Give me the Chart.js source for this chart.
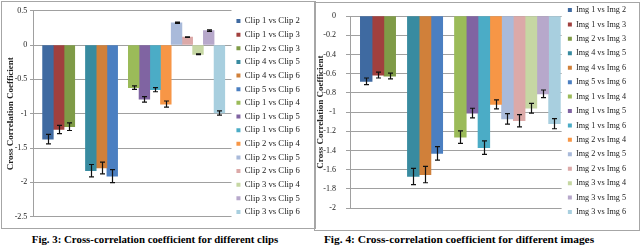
<!DOCTYPE html>
<html><head><meta charset="utf-8">
<script src="https://cdn.jsdelivr.net/npm/chart.js@4/dist/chart.umd.min.js"></script>
<style>
html,body{margin:0;padding:0;background:#fff;width:640px;height:246px;overflow:hidden;position:relative;font-family:'Liberation Serif',serif;}
.frame{position:absolute;border:1px solid #a6a6a6;box-sizing:border-box;}
canvas{position:absolute;}
.cap{position:absolute;font-weight:bold;line-height:12px;text-align:center;color:#000;white-space:nowrap;}
</style></head><body>
<div class="frame" style="left:1px;top:1px;width:315px;height:228px"></div>
<div class="frame" style="left:314px;top:2px;width:326px;height:229px"></div>
<canvas id="c1" width="306" height="229" style="left:2px;top:2px"></canvas>
<canvas id="c2" width="321" height="224" style="left:315px;top:-1px"></canvas>
<div class="cap" style="left:0;width:310px;top:233px;font-size:10.85px">Fig. 3: Cross-correlation coefficient for different clips</div>
<div class="cap" style="left:320px;width:278px;top:233px;font-size:11.4px">Fig. 4: Cross-correlation coefficient for different images</div>
<script>
const FONT = 'Liberation Serif';

// ---- Fig. 3 data (clips) ----
const clipLabels = ['Clip 1 vs Clip 2','Clip 1 vs Clip 3','Clip 2 vs Clip 3','Clip 4 vs Clip 5','Clip 4 vs Clip 6','Clip 5 vs Clip 6','Clip 1 vs Clip 4','Clip 1 vs Clip 5','Clip 1 vs Clip 6','Clip 2 vs Clip 4','Clip 2 vs Clip 5','Clip 2 vs Clip 6','Clip 3 vs Clip 4','Clip 3 vs Clip 5','Clip 3 vs Clip 6'];
const clipValues = [-1.37, -1.23, -1.19, -1.83, -1.79, -1.91, -0.62, -0.79, -0.65, -0.86, 0.325, 0.115, -0.135, 0.21, -0.99];
const clipErrors = [0.07, 0.06, 0.055, 0.09, 0.085, 0.095, 0.025, 0.04, 0.03, 0.045, 0.01, 0.005, 0.005, 0.01, 0.03];
const clipTicks = [0.5, 0, -0.5, -1, -1.5, -2, -2.5];

// ---- Fig. 4 data (images) ----
const imgLabels = ['Img 1 vs Img 2','Img 1 vs Img 3','Img 2 vs Img 3','Img 4 vs Img 5','Img 4 vs Img 6','Img 5 vs Img 6','Img 1 vs Img 4','Img 1 vs Img 5','Img 1 vs Img 6','Img 2 vs Img 4','Img 2 vs Img 5','Img 2 vs Img 6','Img 3 vs Img 4','Img 3 vs Img 5','Img 3 vs Img 6'];
const imgValues = [-0.68, -0.615, -0.625, -1.67, -1.65, -1.43, -1.26, -1.01, -1.37, -0.92, -1.07, -1.09, -0.96, -0.81, -1.12];
const imgErrors = [0.035, 0.03, 0.03, 0.085, 0.085, 0.07, 0.065, 0.05, 0.07, 0.047, 0.055, 0.063, 0.05, 0.04, 0.053];
const imgTicks = [0, -0.2, -0.4, -0.6, -0.8, -1, -1.2, -1.4, -1.6, -1.8, -2];

// groups of series (a blank slot separates groups)
const groupSizes = [3, 3, 9];
const seriesColors = ['#3F6AA1','#A1403E','#7F9B47','#388BA0','#D0803A','#4B7FC1','#9BBB59','#8064A2','#4BACC6','#F79646','#A9BADA','#DCA9A8','#C6D7A3','#B7A8CB','#A8CFDF'];

function slotPositions(sizes) {
  const s = []; let pos = 0;
  sizes.forEach(n => { for (let i = 0; i < n; i++) s.push(pos++); pos++; });
  return s;
}

const errorBarPlugin = {
  id: 'errorBars',
  afterDatasetsDraw(chart, args, opts) {
    const ctx = chart.ctx, ys = chart.scales.y;
    ctx.save();
    ctx.strokeStyle = opts.color; ctx.lineWidth = opts.lineWidth;
    chart.data.datasets.forEach((ds, i) => {
      const bar = chart.getDatasetMeta(i).data[0];
      if (!bar) return;
      const v = ds.data[0].y, e = ds.errorValue;
      const x = Math.round(bar.x) + 0.5;
      const y1 = ys.getPixelForValue(v + e), y2 = ys.getPixelForValue(v - e);
      const hw = opts.capHalfWidth;
      ctx.beginPath();
      ctx.moveTo(x, y1); ctx.lineTo(x, y2);
      ctx.moveTo(x - hw, y1); ctx.lineTo(x + hw, y1);
      ctx.moveTo(x - hw, y2); ctx.lineTo(x + hw, y2);
      ctx.stroke();
    });
    ctx.restore();
  }
};

function makeChart(id, labels, values, errors, ticks, cfg) {
  const slots = slotPositions(groupSizes);
  const step = Math.abs(ticks[0] - ticks[1]);
  return new Chart(document.getElementById(id), {
    type: 'bar',
    data: {
      datasets: labels.map((lab, i) => ({
        label: lab,
        data: [{x: slots[i], y: values[i]}],
        errorValue: errors[i],
        backgroundColor: seriesColors[i],
        borderWidth: 0,
        grouped: false,
        categoryPercentage: 1,
        barPercentage: 1
      }))
    },
    options: {
      responsive: false, animation: false, devicePixelRatio: 1,
      layout: {padding: 0},
      plugins: {
        legend: {
          position: 'right', align: 'center',
          labels: {boxWidth: 4, boxHeight: 4, padding: cfg.legendPad, color: '#222',
                   font: {family: FONT, size: cfg.legendFont}}
        },
        tooltip: {enabled: false},
        errorBars: {color: '#111', lineWidth: 1.2, capHalfWidth: 2.5}
      },
      scales: {
        x: {
          type: 'linear', position: 'bottom', min: cfg.xMin, max: cfg.xMax, offset: false,
          ticks: {display: false, includeBounds: false, stepSize: 5},
          grid: {display: false}, border: {display: false},
          afterFit: s => { s.height = cfg.bottom; }
        },
        xTop: {
          type: 'linear', position: 'top',
          ticks: {display: false}, grid: {display: false}, border: {display: false},
          afterFit: s => { s.height = cfg.top; }
        },
        y: {
          min: Math.min(...ticks), max: Math.max(...ticks),
          ticks: {stepSize: step, color: '#222', padding: cfg.tickPad,
                  font: {family: FONT, size: cfg.tickFont},
                  callback: v => String(Math.round(v * 10) / 10)},
          grid: {color: '#a0a0a0', lineWidth: 1, drawTicks: true, tickLength: cfg.tickLen},
          border: {display: true, color: '#a0a0a0', width: 1},
          title: {display: true, text: 'Cross Correlation Coefficient', color: '#222',
                  font: {family: FONT, size: 9, weight: 'bold'},
                  padding: {top: cfg.titlePad, bottom: 0}},
          afterFit: s => { s.width = cfg.axisWidth; }
        }
      }
    },
    plugins: [errorBarPlugin]
  });
}

makeChart('c1', clipLabels, clipValues, clipErrors, clipTicks, {
  legendPad: 4.94, legendFont: 8.7, xMin: -1.395, xMax: 17.126,
  bottom: 14.3, top: 8.7, tickPad: 2.7, tickFont: 8, tickLen: 3, titlePad: 3.4, axisWidth: 31
});
makeChart('c2', imgLabels, imgValues, imgErrors, imgTicks, {
  legendPad: 6.23, legendFont: 8.2, xMin: -1.379, xMax: 16.607,
  bottom: 7, top: 17, tickPad: 10, tickFont: 8, tickLen: 4, titlePad: 0.1, axisWidth: 35
});
</script>
</body></html>
